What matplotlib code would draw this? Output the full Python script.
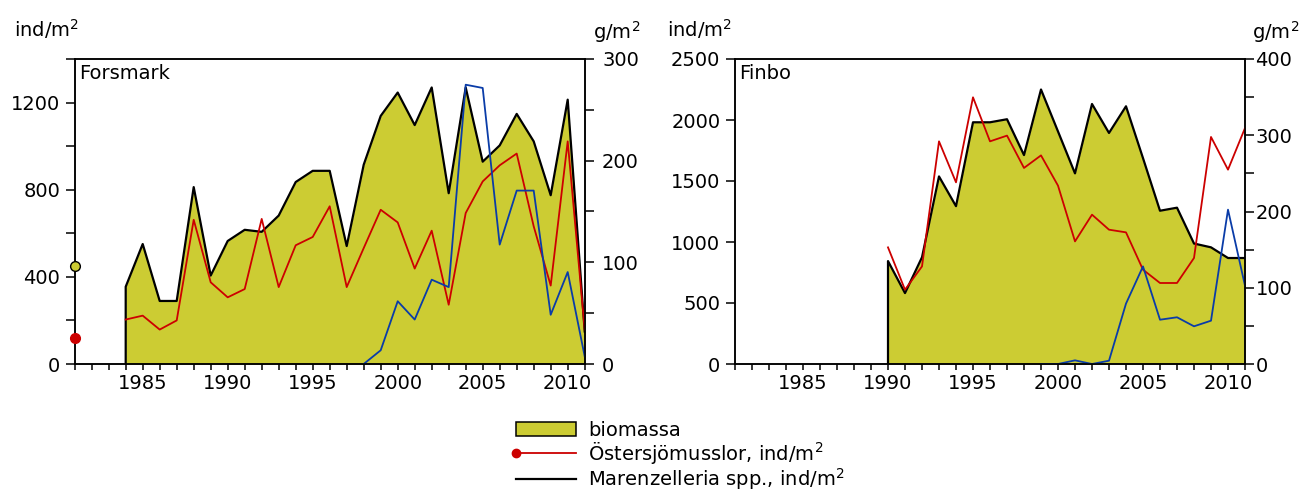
import matplotlib.pyplot as plt
from matplotlib.ticker import MultipleLocator, NullLocator
from matplotlib.patches import Patch
from matplotlib.lines import Line2D
from matplotlib.legend_handler import HandlerLine2D

plt.rcParams['font.family'] = 'DejaVu Sans'
plt.rcParams['font.size'] = 14
plt.rcParams['mathtext.fontset'] = 'dejavusans'

FILL = '#cccc33'
RED = '#cc0000'
BLUE = '#0a3ca8'
BG = '#f9fbf9'

# Forsmark: biomass g/m2, mussels and Marenzelleria ind/m2
fm_years = list(range(1984, 2012))
fm_biomass = [76, 118, 62, 62, 174, 87, 121, 132, 130, 146, 179, 190, 190, 116,
              196, 244, 267, 235, 272, 168, 272, 199, 215, 246, 219, 166, 260, 32]
fm_mussels = [204, 222, 158, 200, 662, 375, 306, 344, 666, 353, 545, 583, 724, 353,
              532, 708, 650, 438, 612, 272, 693, 838, 912, 966, 632, 360, 1022, 158]
fm_marenz_years = list(range(1998, 2012))
fm_marenz = [0, 63, 288, 204, 387, 353, 1282, 1267, 548, 796, 796, 226, 422, 35]
# reference values marked on the left axis (biomass, mussels) in ind/m2
fm_ref_biomass = 448
fm_ref_mussels = 119

# Finbo
fb_years = list(range(1990, 2012))
fb_biomass = [135, 93, 140, 246, 207, 317, 317, 321, 274, 360, 305, 250, 341, 303,
              338, 270, 201, 205, 158, 153, 139, 139]
fb_mussels = [956, 609, 800, 1825, 1489, 2186, 1825, 1872, 1607, 1710, 1462, 1005,
              1224, 1101, 1079, 773, 664, 664, 869, 1861, 1593, 1934]
fb_marenz_years = list(range(1999, 2012))
fb_marenz = [0, 0, 30, 0, 27, 495, 800, 363, 383, 309, 355, 1265, 642]

W, H = 1304, 493
fig = plt.figure(figsize=(W / 100, H / 100), dpi=100)


def panel(left_px, name, years, biomass, mussels, mz_years, mz, ymax, ystep, ystep_minor,
          bmax, rpad):
    ax = fig.add_axes([left_px / W, 1 - 364 / H, 510 / W, 305 / H])
    ax2 = ax.twinx()
    ax.set_zorder(ax2.get_zorder() + 1)
    ax.patch.set_visible(False)
    ax2.patch.set_facecolor(BG)

    # biomass area with its outline (right axis)
    ax2.fill_between(years, 0, biomass, color=FILL, lw=0)
    ax2.plot([years[0]] + years, [0] + biomass, color='black', lw=1.6)
    ax2.set_ylim(0, bmax)
    ax2.yaxis.set_major_locator(MultipleLocator(100))
    ax2.yaxis.set_minor_locator(MultipleLocator(50))
    ax2.tick_params(axis='y', which='both', direction='out', length=6.5, width=1.1,
                    pad=rpad)

    ax.plot(years, mussels, color=RED, lw=1.3)
    ax.plot(mz_years, mz, color=BLUE, lw=1.3)
    ax.set_xlim(1981, 2011)
    ax.set_ylim(0, ymax)
    ax.xaxis.set_major_locator(MultipleLocator(5))
    ax.xaxis.set_minor_locator(MultipleLocator(1))
    ax.yaxis.set_major_locator(MultipleLocator(ystep))
    if ystep_minor:
        ax.yaxis.set_minor_locator(MultipleLocator(ystep_minor))
    else:
        ax.yaxis.set_minor_locator(NullLocator())
    ax.tick_params(axis='x', which='both', direction='out', length=4.5, width=1.1, pad=3)
    ax.tick_params(axis='y', which='both', direction='out', length=6.5, width=1.1, pad=4)
    for a in (ax, ax2):
        for s in a.spines.values():
            s.set_linewidth(1.1)
    ax.text(0.008, 0.985, name, transform=ax.transAxes, va='top', ha='left')
    return ax


ax1 = panel(74.7, 'Forsmark', fm_years, fm_biomass, fm_mussels, fm_marenz_years, fm_marenz,
            1400, 400, 200, 300, 6)
ax1.plot([1981], [fm_ref_biomass], 'o', ms=7, mfc=FILL, mec='black', mew=1, clip_on=False,
         zorder=5)
ax1.plot([1981], [fm_ref_mussels], 'o', ms=7, mfc=RED, mec=RED, clip_on=False, zorder=5)

ax2 = panel(735, 'Finbo', fb_years, fb_biomass, fb_mussels, fb_marenz_years, fb_marenz,
            2500, 500, None, 400, 1)

fig.text(14 / W, 1 - 37 / H, 'ind/m$^2$', va='baseline')
fig.text(593 / W, 1 - 39 / H, 'g/m$^2$', va='baseline')
fig.text(667 / W, 1 - 37 / H, 'ind/m$^2$', va='baseline')
fig.text(1252 / W, 1 - 39 / H, 'g/m$^2$', va='baseline')


class DotAtStart(HandlerLine2D):
    def create_artists(self, *args, **kwargs):
        arts = super().create_artists(*args, **kwargs)
        for a in arts:
            if a.get_marker() not in (None, 'None', ''):
                a.set_markevery([0])
        return arts


handles = [
    Patch(facecolor=FILL, edgecolor='black', lw=1.1),
    Line2D([], [], color=RED, lw=1.3, marker='o', ms=6, mfc=RED, mec=RED),
    Line2D([], [], color='black', lw=1.6),
]
labels = ['biomassa', 'Östersjömusslor, ind/m$^2$', 'Marenzelleria spp., ind/m$^2$']
fig.legend(handles, labels, loc='upper left', bbox_to_anchor=(516 / W, 1 - 421 / H),
           frameon=False, borderpad=0, borderaxespad=0, handlelength=3.1,
           handletextpad=0.6, labelspacing=0.0, numpoints=1,
           handler_map={handles[1]: DotAtStart(numpoints=1)})

fig.savefig('out.png', dpi=100)
